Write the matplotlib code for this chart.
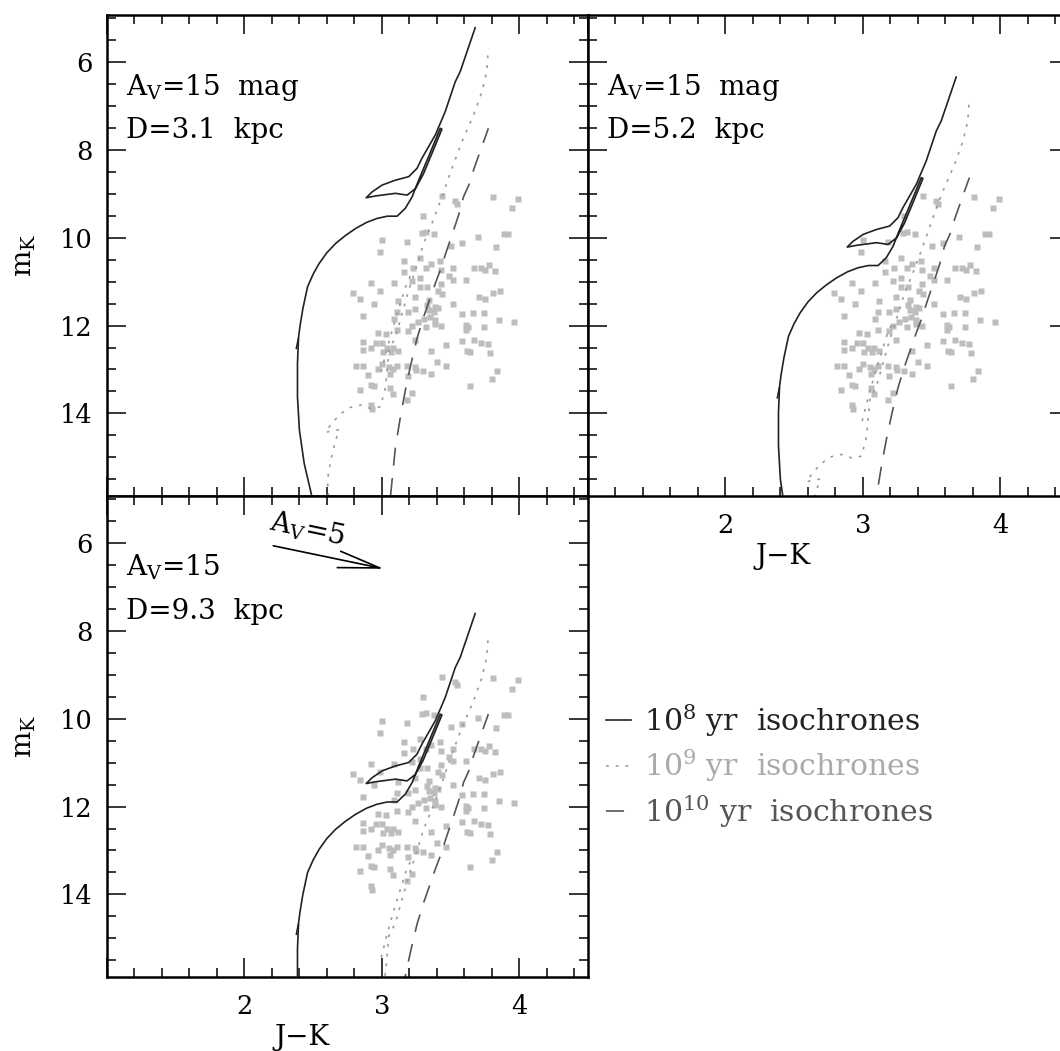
import numpy as np
import matplotlib
matplotlib.use("Agg")
import matplotlib.pyplot as plt
from matplotlib.lines import Line2D
from matplotlib.ticker import MultipleLocator, FixedLocator, FixedFormatter
from matplotlib.patches import FancyArrowPatch

plt.rcParams['font.family'] = ['DejaVu Serif']
plt.rcParams['mathtext.fontset'] = 'dejavuserif'
plt.rcParams['lines.scale_dashes'] = False

# ---------------- data ----------------
# observed stars (J-K, m_K)
obs_jk = [3.44, 3.53, 3.55, 3.81, 3.99, 3.95, 3.30, 3.29, 3.32, 3.38, 3.50, 3.58, 3.70, 3.89, 3.92, 3.83,
          3.00, 3.18, 2.99, 3.16, 3.28, 3.36, 3.42, 3.32, 3.43, 3.52, 3.67, 3.72, 3.78, 3.75, 3.82, 3.16,
          3.23, 3.28, 3.49, 3.52, 3.61, 2.92, 3.09, 3.22, 3.43, 2.79, 2.99, 3.28, 3.33, 3.41, 3.44, 2.84,
          3.12, 3.24, 2.94, 3.34, 3.52, 3.71, 3.75, 3.81, 3.86, 2.86, 3.11, 3.24, 3.33, 3.34, 3.39, 3.41,
          3.58, 3.66, 3.74, 3.38, 3.35, 3.19, 3.09, 3.85, 3.96, 3.26, 3.31, 3.39, 3.39, 3.43, 3.22, 3.32,
          3.61, 3.63, 3.61, 3.74, 2.97, 3.03, 3.11, 3.19, 2.86, 2.96, 3.00, 2.92, 2.86, 3.04, 3.08, 3.01,
          3.07, 3.12, 3.24, 3.47, 3.36, 3.58, 3.67, 3.72, 3.77, 3.62, 3.64, 3.79, 2.81, 2.86, 3.00, 2.97,
          3.05, 3.08, 3.11, 3.18, 3.24, 3.25, 3.30, 3.40, 3.47, 3.36, 2.90, 3.06, 3.19, 2.92, 2.94, 3.06,
          2.84, 3.08, 3.22, 3.18, 2.92, 2.93, 3.84, 3.80, 3.64]
obs_mk = [9.05, 9.16, 9.24, 9.07, 9.11, 9.33, 9.51, 9.89, 9.88, 9.92, 10.18, 10.12, 9.99, 9.92, 9.92, 10.22,
          10.06, 10.09, 10.33, 10.53, 10.47, 10.59, 10.54, 10.70, 10.74, 10.68, 10.68, 10.68, 10.61, 10.74, 10.76, 10.79,
          10.68, 10.91, 10.88, 10.97, 10.97, 11.03, 11.04, 10.98, 11.06, 11.27, 11.22, 11.13, 11.13, 11.22, 11.29, 11.40,
          11.45, 11.36, 11.52, 11.42, 11.52, 11.36, 11.40, 11.25, 11.22, 11.79, 11.69, 11.63, 11.54, 11.65, 11.57, 11.59,
          11.74, 11.71, 11.71, 11.69, 11.80, 11.70, 11.84, 11.88, 11.92, 11.92, 11.84, 11.88, 11.97, 12.01, 12.01, 12.03,
          11.99, 12.04, 12.10, 12.03, 12.18, 12.20, 12.11, 12.12, 12.37, 12.39, 12.39, 12.52, 12.56, 12.50, 12.52, 12.60,
          12.60, 12.58, 12.33, 12.45, 12.58, 12.35, 12.32, 12.39, 12.41, 12.58, 12.60, 12.63, 12.93, 12.93, 12.88, 12.98,
          12.94, 13.00, 12.93, 12.93, 12.94, 13.02, 13.03, 12.83, 12.93, 13.11, 13.13, 13.11, 13.15, 13.36, 13.37, 13.42,
          13.47, 13.56, 13.53, 13.70, 13.81, 13.89, 13.04, 13.21, 13.38]

# isochrones as they appear for D = 3.1 kpc, A_V = 15 mag
iso8_jk = [2.490, 2.435, 2.400, 2.386, 2.386, 2.394, 2.405, 2.425, 2.459, 2.500, 2.543, 2.600, 2.664, 2.735,
           2.809, 2.890, 2.966, 3.040, 3.111, 3.171,
           3.220, 3.268, 3.347, 3.425, 3.437, 3.362, 3.302, 3.245, 3.184, 3.099, 2.954, 2.886, 2.930, 3.003,
           3.099, 3.196, 3.256, 3.292, 3.389, 3.461, 3.534, 3.570, 3.679]
iso8_mk = [15.88, 15.14, 14.38, 13.62, 12.86, 12.26, 12.00, 11.62, 11.12, 10.83, 10.59, 10.34, 10.13, 9.95,
           9.79, 9.65, 9.56, 9.51, 9.51, 9.33,
           9.07, 8.69, 8.10, 7.51, 7.53, 8.10, 8.55, 8.88, 9.03, 8.99, 9.05, 9.09, 8.955, 8.80,
           8.69, 8.61, 8.42, 8.19, 7.66, 7.13, 6.45, 6.22, 5.22]
iso8_hook_jk = [2.392, 2.378]
iso8_hook_mk = [12.30, 12.52]

iso9_jk = [2.611, 2.604, 2.628, 2.664, 2.690, 2.590, 2.616, 2.688, 2.761, 2.845, 2.918, 2.990, 3.027, 3.051,
           3.099, 3.147, 3.196, 3.244, 3.304, 3.365, 3.437, 3.510, 3.582, 3.667, 3.728, 3.763, 3.775]
iso9_mk = [15.88, 15.52, 15.07, 14.61, 14.37, 14.43, 14.31, 14.04, 13.87, 13.81, 13.89, 13.85, 13.40, 12.56,
           12.26, 11.73, 11.19, 10.74, 10.13, 9.67, 9.07, 8.42, 7.82, 7.21, 6.68, 6.22, 5.69]
iso9_agb_jk = [2.995, 3.040, 3.085, 3.135, 3.180, 3.225]
iso9_agb_mk = [13.05, 12.50, 12.00, 11.50, 11.05, 10.75]

iso10_jk = [3.063, 3.099, 3.135, 3.171, 3.207, 3.256, 3.304, 3.389, 3.425, 3.473, 3.522, 3.558, 3.594,
            3.643, 3.667, 3.727, 3.775]
iso10_mk = [15.88, 14.76, 14.08, 13.47, 12.94, 12.29, 11.80, 11.04, 10.74, 10.28, 9.83, 9.49, 9.07,
            8.73, 8.46, 7.93, 7.51]

distances_kpc = [3.1, 5.2, 9.3]
av_labels = ['15  mag', '15  mag', '15']
legend_labels = ['10$^{8}$ yr  isochrones', '10$^{9}$ yr  isochrones', '10$^{10}$ yr  isochrones']
x_ticks = [1, 2, 3, 4]
x_ticklabels = ['', '2', '3', '4']
y_ticks = [6, 8, 10, 12, 14]

# ---------------- styling ----------------
C8, C9, C10, COBS = '#222222', '#9a9a9a', '#555555', '#bdbdbd'
LEG_TXT = ['#222222', '#aaaaaa', '#555555']
FS = 18.5     # tick labels
FT = 20       # panel annotations
FL = 20       # axis labels
FG = 21.5     # legend

W, H = 1060, 1051
fig = plt.figure(figsize=(W / 100, H / 100), dpi=100)

def fr(x0, y_top, w=481, h=481):
    return [x0 / W, (H - y_top - h) / H, w / W, h / H]

ax1 = fig.add_axes(fr(107, 15))
ax2 = fig.add_axes(fr(588, 15))
ax3 = fig.add_axes(fr(107, 496))
axes = [ax1, ax2, ax3]

for i, (ax, d) in enumerate(zip(axes, distances_kpc)):
    dm = 5 * np.log10(d / distances_kpc[0])
    ax.plot(obs_jk, obs_mk, 's', ms=4.4, color=COBS, mec='none', zorder=1)
    ax.plot(iso8_jk, np.array(iso8_mk) + dm, '-', color=C8, lw=1.2, zorder=3)
    ax.plot(iso8_hook_jk, np.array(iso8_hook_mk) + dm, '-', color=C8, lw=1.2, zorder=3)
    ax.plot(iso9_jk, np.array(iso9_mk) + dm, color=C9, lw=1.2, dashes=(2, 5), zorder=2)
    ax.plot(iso9_agb_jk, np.array(iso9_agb_mk) + dm, color=C9, lw=1.2, dashes=(2, 5), zorder=2)
    ax.plot(iso10_jk, np.array(iso10_mk) + dm, color=C10, lw=1.2, dashes=(13, 9), zorder=2)

    ax.set_xlim(1.0, 4.5)
    ax.set_ylim(15.88, 4.93)
    ax.xaxis.set_major_locator(FixedLocator(x_ticks))
    ax.xaxis.set_major_formatter(FixedFormatter(x_ticklabels))
    ax.xaxis.set_minor_locator(MultipleLocator(0.2))
    ax.yaxis.set_major_locator(FixedLocator(y_ticks))
    ax.yaxis.set_minor_locator(MultipleLocator(0.5))
    ax.tick_params(which='both', direction='in', top=True, right=True, width=1.1, colors='black',
                   labelsize=FS)
    ax.tick_params(which='major', length=14)
    ax.tick_params(which='minor', length=6.5)
    ax.tick_params(axis='x', pad=12.5)
    ax.tick_params(axis='y', pad=10.5)
    for s in ax.spines.values():
        s.set_linewidth(1.8)

    ax.text(1.140, 6.75, r'A$_{\rm V}$=' + av_labels[i], fontsize=FT, va='baseline', ha='left')
    ax.text(1.140, 7.72, 'D=%.1f  kpc' % d, fontsize=FT, va='baseline', ha='left')

ax1.tick_params(labelbottom=False)
ax2.tick_params(labelleft=False)

for ax in (ax1, ax3):
    ax.set_ylabel(r'm$_{\rm K}$', fontsize=FL)
    ax.yaxis.set_label_coords(-0.143, 0.5)
for ax in (ax2, ax3):
    ax.set_xlabel('J\u2212K', fontsize=FL)
    ax.xaxis.set_label_coords(0.405, -0.098)

# reddening vector
arr = FancyArrowPatch((2.19, 6.05), (3.035, 6.60), arrowstyle='->,head_length=3.0,head_width=0.6',
                      mutation_scale=10, lw=1.2, color='black', zorder=4)
ax3.add_patch(arr)
ax3.text(2.46, 5.70, r'A$_{\rm V}$=5', fontsize=FT, rotation=-12, ha='center', va='center')

# legend
handles = [Line2D([], [], color=C8, lw=1.2),
           Line2D([], [], color=C9, lw=1.2, dashes=(2, 5)),
           Line2D([], [], color=C10, lw=1.2, dashes=(13, 9))]
leg = fig.legend(handles, legend_labels, loc='upper left', bbox_to_anchor=(606 / W, (H - 702) / H),
                 frameon=False, fontsize=FG, handlelength=0.84, handletextpad=0.43,
                 labelspacing=0.30, borderpad=0, borderaxespad=0)
for t, c in zip(leg.get_texts(), LEG_TXT):
    t.set_color(c)

fig.savefig('out.png', dpi=100)
